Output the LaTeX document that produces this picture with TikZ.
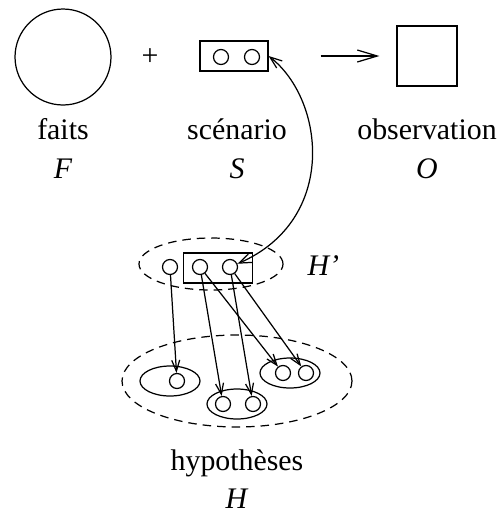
\documentclass[tikz,border=0pt]{standalone}
\usepackage{fontspec}
\setmainfont{Liberation Serif}
\usetikzlibrary{arrows.meta,shapes.geometric}

\begin{document}
\begin{tikzpicture}[x=0.02cm,y=-0.02cm,line width=0.7pt,
  font=\fontsize{17}{20}\selectfont,
  lbl/.style={anchor=base,inner sep=0pt},
  dot/.style={draw,circle,inner sep=0pt,minimum size=0.3cm},
  grp/.style={draw,ellipse,inner sep=0pt,minimum width=1.2cm,minimum height=0.6cm},
  dashgrp/.style={draw,ellipse,inner sep=0pt,dash pattern=on 0.17cm off 0.12cm},
  linkarrow/.style={-{Straight Barb[length=2.2mm,width=1.6mm]}}]
\useasboundingbox (0,0) rectangle (498,512);
% top row: faits + scenario -> observation
\node[draw,circle,inner sep=0pt,minimum size=1.92cm] (faits) at (63,57) {};
\node[inner sep=0pt] (plus) at (150,57) {+};
\node[draw,inner sep=0pt,minimum width=1.36cm,minimum height=0.6cm] (scen) at (234,56) {};
\node[dot] (s1) at (221,57) {};
\node[dot] (s2) at (252,57) {};
\node[draw,inner sep=0pt,minimum size=1.2cm] (obs) at (427,56) {};
\draw[-{Straight Barb[length=4mm,width=2.4mm]},shorten <=1.04cm,shorten >=0.34cm]
  (scen.east) -- (obs.west);
% labels of the top row
\node[lbl] (faitslbl) at (63,139) {faits};
\node[lbl] (Flbl) at (63,178) {\textit{F}};
\node[lbl] (scenlbl) at (237,139) {scénario};
\node[lbl] (Slbl) at (237,178) {\textit{S}};
\node[lbl] (obslbl) at (427,139) {observation};
\node[lbl] (Olbl) at (427,178) {\textit{O}};
% H' : chosen hypotheses
\node[dashgrp,minimum width=2.88cm,minimum height=1.04cm] (hprime) at (211,264) {};
\node[draw,inner sep=0pt,minimum width=1.38cm,minimum height=0.6cm] (hbox) at (218,268) {};
\node[dot] (h1) at (170,267) {};
\node[dot] (h2) at (200,267) {};
\node[dot] (h3) at (230,267) {};
\node[lbl,anchor=base west] (hprimelbl) at (307,275) {\textit{H'}};
\draw[{Straight Barb[length=2.4mm,width=1.8mm]}-{Straight Barb[length=2.4mm,width=1.8mm]}]
  (scen.east) .. controls (325,100) and (338,220) .. (h3);
% H : all hypotheses
\node[dashgrp,minimum width=4.6cm,minimum height=1.84cm] (hyp) at (237,381) {};
\node[grp] (e1) at (170,381) {};
\node[grp] (e2) at (237,404) {};
\node[grp] (e3) at (290,373) {};
\node[dot] (e1a) at (177,381) {};
\node[dot] (e2a) at (223,404) {};
\node[dot] (e2b) at (253,404) {};
\node[dot] (e3a) at (283,373) {};
\node[dot] (e3b) at (306,373) {};
\draw[linkarrow] (h1) -- (e1a);
\draw[linkarrow] (h2) -- (e2a);
\draw[linkarrow] (h2) -- (e3a);
\draw[linkarrow] (h3) -- (e2b);
\draw[linkarrow] (h3) -- (e3b);
\node[lbl] (hyplbl) at (237,470) {hypothèses};
\node[lbl] (Hlbl) at (237,508) {\textit{H}};
\end{tikzpicture}
\end{document}
